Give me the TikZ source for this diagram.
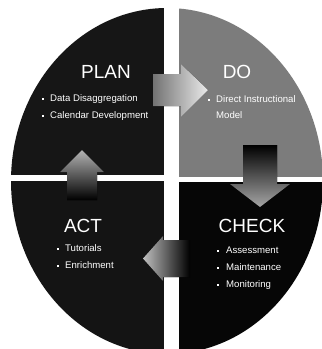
\documentclass[tikz,border=0pt]{standalone}
\usepackage{fontspec}
\setmainfont{Liberation Sans}
\definecolor{plancol}{HTML}{161616}
\definecolor{docol}{HTML}{7C7C7C}
\definecolor{checkcol}{HTML}{060606}
\definecolor{actcol}{HTML}{141414}
\begin{document}
\begin{tikzpicture}[x=1pt,y=-1pt,
  title/.style={text=white,font=\fontsize{19}{19}\selectfont,inner sep=0pt},
  item/.style={text=white,font=\fontsize{9.6}{11}\selectfont,inner sep=0pt,anchor=west,text height=6.8pt,text depth=2pt},
  bul/.style={fill=white,minimum size=2.8pt,inner sep=0pt}]
\useasboundingbox (0,0) rectangle (322,349);
\fill[white] (0,0) rectangle (322,349);
% quadrants
\begin{scope}
\clip (167,181) ellipse [x radius=156pt, y radius=173pt];
\fill[plancol] (0,0) rectangle (164,174.5);
\fill[docol] (179,0) rectangle (330,176.5);
\fill[actcol] (0,181) rectangle (164,360);
\fill[checkcol] (179,182) rectangle (330,360);
\end{scope}
% arrows
\fill[left color=black!55, right color=black!8]
  (153,74) -- (181,74) -- (181,64) -- (208,90) -- (181,117) -- (181,106) -- (153,106) -- cycle;
\fill[top color=black, bottom color=black!35]
  (243,145) -- (277,145) -- (277,184) -- (290,184) -- (260,207) -- (230,184) -- (243,184) -- cycle;
\fill[right color=black, left color=black!25]
  (190,240) -- (190,277) -- (163,277) -- (163,281) -- (143,258.5) -- (163,236) -- (163,240) -- cycle;
\fill[bottom color=black, top color=black!30]
  (67,200) -- (97,200) -- (97,172) -- (104,172) -- (82,150) -- (60,172) -- (67,172) -- cycle;
% titles
\node[title] (plan) at (106,71.5) {PLAN};
\node[title] (do) at (237,71.5) {DO};
\node[title] (check) at (252,226) {CHECK};
\node[title] (act) at (83,226) {ACT};
% PLAN items
\node[bul] (pb1) at (43,99) {};
\node[item] (p1) at (50,99) {Data Disaggregation};
\node[bul] (pb2) at (43,116) {};
\node[item] (p2) at (50,116) {Calendar Development};
% DO items
\node[bul] (db1) at (209,100) {};
\node[item] (d1) at (216,100) {Direct Instructional};
\node[item] (d2) at (216,116) {Model};
% ACT items
\node[bul] (ab1) at (58,249) {};
\node[item] (a1) at (65,249) {Tutorials};
\node[bul] (ab2) at (58,266) {};
\node[item] (a2) at (65,266) {Enrichment};
% CHECK items
\node[bul] (cb1) at (218,251) {};
\node[item] (c1) at (226,251) {Assessment};
\node[bul] (cb2) at (218,268) {};
\node[item] (c2) at (226,268) {Maintenance};
\node[bul] (cb3) at (218,285) {};
\node[item] (c3) at (226,285) {Monitoring};
\end{tikzpicture}
\end{document}
